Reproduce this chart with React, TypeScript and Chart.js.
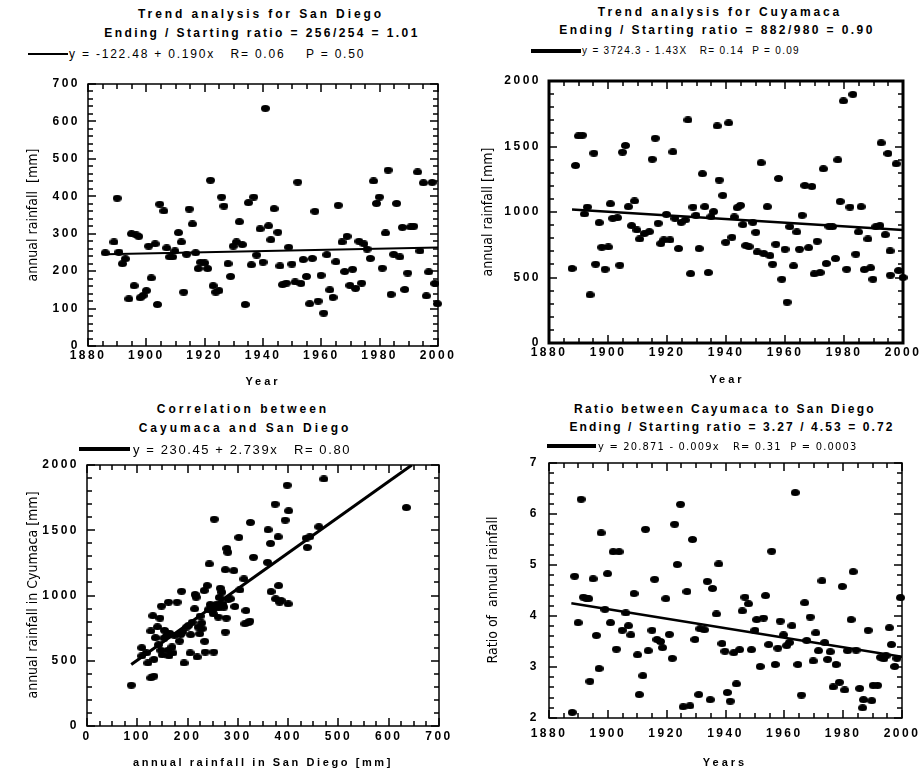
import React, { useEffect, useRef } from 'react';
import { Chart, registerables } from 'chart.js';

Chart.register(...registerables);

const SANS = '"Liberation Sans", Arial, Helvetica, sans-serif';
const NARROW = '"Liberation Sans Narrow", "DejaVu Sans Condensed", "Liberation Sans", sans-serif';

// ---------- Panel A: San Diego annual rainfall ----------
const yearsA = [
  1885.9, 1888.9, 1890.0, 1890.6, 1891.8, 1892.8, 1894.0, 1894.9, 1895.8, 1896.5,
  1897.4, 1897.9, 1898.9, 1900.0, 1900.8, 1901.7, 1903.0, 1903.8, 1904.6, 1906.0,
  1907.0, 1908.0, 1909.0, 1909.8, 1911.0, 1912.0, 1912.8, 1913.8, 1914.7, 1915.8,
  1916.9, 1917.8, 1918.6, 1920.0, 1921.0, 1922.0, 1922.9, 1923.8, 1924.9, 1925.8,
  1926.6, 1928.0, 1928.9, 1929.8, 1930.9, 1931.9, 1932.9, 1933.9, 1935.0, 1936.0,
  1936.8, 1937.8, 1939.0, 1940.0, 1940.8, 1941.9, 1942.7, 1943.8, 1945.1, 1945.8,
  1946.7, 1948.0, 1948.8, 1949.9, 1951.0, 1951.9, 1953.0, 1953.8, 1954.9, 1956.0,
  1956.9, 1957.8, 1958.9, 1959.9, 1960.8, 1961.9, 1962.9, 1964.0, 1965.0, 1965.8,
  1967.1, 1968.0, 1968.8, 1969.8, 1970.7, 1971.7, 1972.9, 1973.8, 1974.6, 1975.7,
  1976.8, 1977.9, 1978.9, 1979.9, 1980.9, 1982.0, 1982.9, 1983.9, 1984.8, 1985.8,
  1986.9, 1987.8, 1988.6, 1989.6, 1990.6, 1991.7, 1993.0, 1993.8, 1995.0, 1996.0,
  1996.8, 1998.0, 1998.9, 1999.8,
];
const rainSanDiego = [
  249, 278, 395, 251, 220, 233, 126, 300, 161, 297,
  293, 129, 135, 148, 267, 182, 273, 111, 379, 361,
  262, 238, 238, 254, 303, 278, 144, 245, 366, 326,
  249, 207, 224, 222, 207, 443, 161, 144, 148, 398,
  374, 220, 186, 267, 278, 332, 271, 111, 383, 217,
  398, 243, 313, 224, 635, 321, 284, 367, 304, 214,
  164, 168, 264, 219, 171, 438, 167, 231, 186, 113,
  234, 360, 120, 189, 88, 244, 150, 130, 225, 376,
  278, 199, 293, 162, 205, 154, 280, 168, 273, 259,
  234, 441, 381, 398, 208, 302, 470, 138, 245, 381,
  238, 317, 151, 195, 318, 320, 465, 254, 436, 134,
  198, 437, 167, 113,
];
const trendYearsA = [1886, 2000];
const trendA = [245, 263];

// ---------- Panel B: Cuyamaca annual rainfall ----------
const yearsB = [
  1887.8, 1889.0, 1890.0, 1891.3, 1892.0, 1893.0, 1893.9, 1895.2, 1895.8, 1897.0,
  1897.9, 1899.0, 1900.1, 1900.8, 1901.6, 1903.2, 1904.0, 1904.9, 1905.9, 1906.9,
  1908.0, 1909.0, 1909.8, 1910.7, 1912.3, 1914.0, 1915.0, 1916.0, 1917.0, 1917.9,
  1918.9, 1919.8, 1921.0, 1922.0, 1922.7, 1923.9, 1924.8, 1926.2, 1927.1, 1928.0,
  1928.8, 1929.8, 1930.9, 1932.0, 1932.8, 1934.0, 1934.9, 1935.8, 1937.0, 1937.7,
  1938.9, 1939.9, 1940.9, 1942.0, 1942.8, 1943.8, 1944.9, 1945.7, 1946.7, 1947.8,
  1949.1, 1950.1, 1950.6, 1951.9, 1952.8, 1954.0, 1954.9, 1955.8, 1956.9, 1957.8,
  1958.9, 1960.0, 1960.7, 1961.6, 1962.9, 1964.0, 1964.9, 1965.8, 1966.7, 1968.0,
  1969.1, 1969.9, 1970.9, 1971.9, 1973.0, 1974.0, 1974.9, 1976.1, 1977.1, 1977.9,
  1978.7, 1979.8, 1980.9, 1982.0, 1983.0, 1984.0, 1984.9, 1985.8, 1986.9, 1988.1,
  1989.0, 1989.8, 1990.8, 1992.2, 1992.6, 1994.0, 1994.9, 1995.6, 1995.7, 1997.7,
  1998.5, 2000.0,
];
const rainCuyamaca = [
  569, 1355, 1581, 1586, 985, 1038, 368, 1449, 602, 919,
  731, 563, 733, 1063, 952, 957, 594, 1457, 1508, 1041,
  896, 1084, 863, 794, 835, 850, 1403, 1563, 914, 759,
  787, 982, 787, 1459, 952, 721, 921, 939, 1703, 530,
  1038, 975, 721, 1292, 1041, 538, 964, 1003, 1657, 1244,
  1127, 769, 1680, 807, 962, 1033, 1051, 904, 744, 736,
  921, 845, 695, 1376, 683, 1041, 667, 602, 754, 1256,
  487, 716, 312, 888, 589, 848, 716, 975, 1203, 728,
  1195, 528, 777, 538, 1330, 607, 891, 888, 645, 1398,
  1081, 1848, 563, 1038, 1898, 678, 848, 1041, 561, 794,
  574, 487, 888, 896, 1528, 827, 1447, 703, 518, 1368,
  553, 500,
];
const trendYearsB = [1887.8, 2000];
const trendB = [1020, 863];

// ---------- Panel C: Cuyamaca vs San Diego ----------
const sanDiegoC = [
  88, 109, 109, 121, 127, 133, 133, 127, 131, 145,
  148, 136, 142, 147, 153, 162, 179, 154, 164, 161,
  163, 169, 174, 184, 188, 190, 193, 198, 202, 205,
  209, 214, 215, 217, 219, 221, 224, 225, 229, 233,
  234, 235, 239, 241, 243, 245, 249, 252, 253, 254,
  257, 261, 265, 268, 270, 272, 275, 277, 275, 278,
  280, 281, 292, 294, 302, 304, 312, 316, 321, 324,
  325, 331, 359, 360, 365, 366, 374, 375, 380, 381,
  383, 394, 398, 401, 400, 386, 436, 438, 443, 461,
  471, 635, 314, 247, 251, 262, 228, 206, 186, 171,
  150, 140, 158, 118, 263, 285,
];
const cuyamacaC = [
  313, 600, 537, 483, 369, 382, 511, 728, 845, 827,
  919, 677, 623, 580, 674, 949, 949, 733, 712, 580,
  537, 606, 695, 651, 1033, 720, 483, 758, 771, 560,
  794, 898, 1008, 987, 529, 758, 707, 842, 746, 1038,
  649, 567, 1076, 891, 1242, 931, 885, 567, 1585, 911,
  931, 835, 1056, 1025, 936, 911, 720, 827, 1198, 1361,
  1331, 972, 1191, 916, 1445, 1043, 1127, 885, 794, 804,
  1560, 1293, 1254, 1504, 1399, 1030, 1700, 975, 1450, 1076,
  949, 1578, 1845, 1649, 936, 962, 1440, 1369, 1450, 1527,
  1893, 1674, 784, 905, 860, 905, 790, 700, 700, 560,
  545, 760, 690, 560, 985, 975,
];
const fitSanDiegoC = [88, 646];
const fitCuyamacaC = [471, 2000];

// ---------- Panel D: ratio Cuyamaca / San Diego ----------
const yearsD = [
  1887.9, 1888.7, 1889.9, 1890.9, 1891.7, 1892.7, 1893.5, 1893.9, 1895.0, 1896.1,
  1897.0, 1897.7, 1899.0, 1899.9, 1900.9, 1901.8, 1902.9, 1903.8, 1904.9, 1906.1,
  1907.0, 1907.8, 1908.9, 1910.1, 1910.7, 1911.9, 1912.8, 1913.7, 1915.0, 1915.9,
  1916.7, 1917.9, 1918.6, 1919.7, 1920.9, 1921.9, 1922.7, 1923.6, 1924.7, 1925.6,
  1926.9, 1927.9, 1928.8, 1929.6, 1930.9, 1931.3, 1932.8, 1933.8, 1934.8, 1935.6,
  1936.9, 1937.7, 1938.8, 1939.8, 1940.6, 1941.6, 1942.8, 1943.7, 1944.8, 1945.7,
  1946.6, 1947.8, 1948.8, 1950.0, 1950.6, 1951.8, 1952.9, 1953.6, 1954.7, 1955.7,
  1956.9, 1957.8, 1958.6, 1959.7, 1960.8, 1961.7, 1962.6, 1963.7, 1964.6, 1965.8,
  1966.9, 1967.6, 1968.8, 1969.8, 1970.7, 1971.6, 1972.8, 1973.7, 1974.7, 1975.6,
  1976.6, 1977.6, 1978.7, 1979.7, 1980.5, 1981.5, 1982.7, 1983.4, 1984.4, 1985.6,
  1986.6, 1986.9, 1988.5, 1989.7, 1990.2, 1991.7, 1992.7, 1993.8, 1994.6, 1995.7,
  1996.4, 1997.5, 1998.3, 1999.5,
];
const ratioD = [
  2.11, 4.78, 3.87, 6.29, 4.37, 4.35, 4.34, 2.72, 4.73, 3.62,
  2.97, 5.63, 4.13, 4.83, 3.87, 5.26, 3.35, 5.26, 3.72, 4.06,
  3.81, 3.63, 4.44, 3.24, 2.46, 2.83, 5.70, 3.32, 3.72, 4.72,
  3.54, 3.50, 3.38, 4.34, 3.64, 3.17, 5.80, 5.01, 6.19, 2.22,
  4.48, 2.24, 5.50, 3.54, 2.46, 3.75, 3.73, 4.68, 2.36, 4.54,
  4.04, 5.02, 3.46, 3.31, 2.50, 2.33, 3.28, 2.67, 3.34, 4.10,
  4.37, 4.24, 3.34, 3.72, 3.93, 3.01, 3.96, 4.40, 3.44, 5.27,
  3.05, 3.37, 3.90, 3.63, 3.42, 3.48, 3.81, 6.42, 3.05, 2.45,
  4.26, 3.52, 3.98, 3.12, 3.67, 3.32, 4.69, 3.48, 3.15, 3.30,
  2.61, 3.05, 2.70, 4.58, 2.55, 3.32, 3.93, 4.87, 3.33, 2.58,
  2.20, 2.36, 3.72, 2.34, 2.64, 2.64, 3.19, 3.16, 3.22, 3.77,
  3.44, 3.01, 3.17, 4.36,
];
const trendYearsD = [1887.6, 2000];
const trendD = [4.25, 3.2];

// ---------- helpers ----------
function makeDot(w: number, h: number) {
  const c = document.createElement('canvas');
  c.width = w;
  c.height = h;
  const g = c.getContext('2d')!;
  g.fillStyle = '#000';
  g.beginPath();
  g.ellipse(w / 2, h / 2, w / 2, h / 2, 0, 0, Math.PI * 2);
  g.fill();
  return c;
}

const isMajor = (v: number, m: number) => Math.abs(v / m - Math.round(v / m)) < 1e-6;

interface AxisCfg { min: number; max: number; step: number; major: number }
interface PanelCfg {
  box: [number, number, number, number];
  area: [number, number, number, number];
  x: AxisCfg;
  y: AxisCfg;
  px: number[];
  py: number[];
  tx: number[];
  ty: number[];
  frameW: number;
  lineW: number;
  xPad: number;
  yPad: number;
}

function tickValues(a: AxisCfg) {
  const out: number[] = [];
  const n = Math.round((a.max - a.min) / a.step);
  for (let i = 0; i <= n; i++) out.push(a.min + i * a.step);
  return out;
}

function makeFramePlugin(cfg: PanelCfg) {
  const MAJOR_LEN = 8;
  const MINOR_LEN = 5;
  const LS = '2.5px';
  return {
    id: 'frameTicks',
    beforeLayout(chart: any) {
      chart.ctx.letterSpacing = LS;
    },
    beforeDraw(chart: any) {
      chart.ctx.letterSpacing = LS;
    },
    afterDraw(chart: any) {
      const ctx = chart.ctx;
      const a = chart.chartArea;
      const sx = chart.scales.x;
      const sy = chart.scales.y;
      ctx.save();
      ctx.fillStyle = '#000';
      ctx.strokeStyle = '#000';
      tickValues(cfg.x).forEach((v) => {
        const p = Math.round(sx.getPixelForValue(v));
        const L = isMajor(v, cfg.x.major) ? MAJOR_LEN : MINOR_LEN;
        ctx.fillRect(p - 0.75, a.bottom - L, 1.5, L);
        ctx.fillRect(p - 0.75, a.top, 1.5, L);
      });
      tickValues(cfg.y).forEach((v) => {
        const p = Math.round(sy.getPixelForValue(v));
        const L = isMajor(v, cfg.y.major) ? MAJOR_LEN : MINOR_LEN;
        ctx.fillRect(a.left, p - 0.75, L, 1.5);
        ctx.fillRect(a.right - L, p - 0.75, L, 1.5);
      });
      ctx.lineWidth = cfg.frameW;
      ctx.strokeRect(a.left, a.top, a.right - a.left, a.bottom - a.top);
      ctx.restore();
    },
  };
}

const panels: PanelCfg[] = [
  {
    box: [0, 70, 461, 322], area: [88, 84, 438, 346],
    x: { min: 1880, max: 2000, step: 5, major: 20 },
    y: { min: 0, max: 700, step: 20, major: 100 },
    px: yearsA, py: rainSanDiego, tx: trendYearsA, ty: trendA,
    frameW: 1.5, lineW: 2, xPad: 2, yPad: 8,
  },
  {
    box: [461, 68, 461, 322], area: [549, 81, 903, 343],
    x: { min: 1880, max: 2000, step: 5, major: 20 },
    y: { min: 0, max: 2000, step: 100, major: 500 },
    px: yearsB, py: rainCuyamaca, tx: trendYearsB, ty: trendB,
    frameW: 3, lineW: 2.5, xPad: 2, yPad: 8,
  },
  {
    box: [0, 455, 461, 316], area: [87, 465, 439, 726],
    x: { min: 0, max: 700, step: 25, major: 100 },
    y: { min: 0, max: 2000, step: 100, major: 500 },
    px: sanDiegoC, py: cuyamacaC, tx: fitSanDiegoC, ty: fitCuyamacaC,
    frameW: 1.5, lineW: 3, xPad: 3, yPad: 8,
  },
  {
    box: [461, 455, 461, 316], area: [549, 463, 902, 718],
    x: { min: 1880, max: 2000, step: 5, major: 20 },
    y: { min: 2, max: 7, step: 0.2, major: 1 },
    px: yearsD, py: ratioD, tx: trendYearsD, ty: trendD,
    frameW: 1.5, lineW: 2.5, xPad: 8, yPad: 10,
  },
];

function Panel({ cfg }: { cfg: PanelCfg }) {
  const ref = useRef<HTMLCanvasElement>(null);
  const [L, T, W, H] = cfg.box;
  useEffect(() => {
    const [al, at, ar, ab] = cfg.area;
    const dot = makeDot(9, 7);
    const tickFont = { family: SANS, size: 12, weight: 'bold' as const };
    const chart = new Chart(ref.current!, {
      type: 'scatter',
      data: {
        datasets: [
          {
            data: cfg.px.map((v, i) => ({ x: v, y: cfg.py[i] })),
            pointStyle: dot as any,
            pointRadius: 4,
            pointHoverRadius: 4,
            clip: false as any,
          },
          {
            data: cfg.tx.map((v, i) => ({ x: v, y: cfg.ty[i] })),
            showLine: true,
            pointRadius: 0,
            borderColor: '#000',
            borderWidth: cfg.lineW,
          } as any,
        ],
      },
      options: {
        responsive: false,
        animation: false,
        devicePixelRatio: 1,
        events: [],
        layout: { padding: { left: 0, top: at - T, right: L + W - ar, bottom: 0 } },
        plugins: {
          legend: { display: false },
          tooltip: { enabled: false },
        },
        scales: {
          x: {
            type: 'linear', min: cfg.x.min, max: cfg.x.max,
            ticks: {
              stepSize: cfg.x.step, autoSkip: false, maxRotation: 0, minRotation: 0,
              callback: (v: any) => (isMajor(Number(v), cfg.x.major) ? String(v) : ''),
              font: tickFont, color: '#000', padding: cfg.xPad,
            },
            grid: { display: false, drawTicks: false },
            border: { display: false },
            afterFit: (s: any) => { s.height = T + H - ab; s.paddingLeft = 0; s.paddingRight = 0; },
          },
          y: {
            type: 'linear', min: cfg.y.min, max: cfg.y.max,
            ticks: {
              stepSize: cfg.y.step, autoSkip: false,
              callback: (v: any) => (isMajor(Number(v), cfg.y.major) ? String(Math.round(Number(v))) : ''),
              font: tickFont, color: '#000', padding: cfg.yPad,
            },
            grid: { display: false, drawTicks: false },
            border: { display: false },
            afterFit: (s: any) => { s.width = al - L; s.paddingTop = 0; s.paddingBottom = 0; },
          },
        } as any,
      },
      plugins: [makeFramePlugin(cfg) as any],
    });
    return () => chart.destroy();
  }, []);
  return (
    <canvas
      ref={ref}
      width={W}
      height={H}
      style={{ position: 'absolute', left: L, top: T, width: W, height: H }}
    />
  );
}

function Txt(p: {
  x: number; y: number; text: string; size: number; bold?: boolean; ls?: number;
  family?: string; align?: 'center' | 'left'; rotate?: boolean;
}) {
  const tf = p.rotate
    ? 'translate(-50%,-50%) rotate(-90deg)'
    : p.align === 'left' ? 'translate(0,-50%)' : 'translate(-50%,-50%)';
  return (
    <div
      style={{
        position: 'absolute', left: p.x, top: p.y, transform: tf,
        whiteSpace: 'pre', fontFamily: p.family || SANS, fontSize: p.size,
        fontWeight: p.bold ? 'bold' : 'normal', letterSpacing: (p.ls || 0) + 'px',
        lineHeight: 1, color: '#000',
      }}
    >
      {p.text}
    </div>
  );
}

function Key(p: { x1: number; x2: number; y: number; th: number }) {
  return (
    <div
      style={{
        position: 'absolute', left: p.x1, top: p.y - p.th / 2, width: p.x2 - p.x1,
        height: p.th, background: '#000',
      }}
    />
  );
}

export default function App() {
  return (
    <div style={{ position: 'absolute', left: 0, top: 0, width: 922, height: 771, background: '#fff', overflow: 'hidden' }}>
      {panels.map((c, i) => <Panel key={i} cfg={c} />)}

      {/* Panel A texts */}
      <Txt x={261} y={14} text="Trend analysis for San Diego" size={12} bold ls={2.9} />
      <Txt x={262} y={33} text="Ending / Starting ratio = 256/254 = 1.01" size={12} bold ls={2.4} />
      <Key x1={28} x2={68} y={54} th={2} />
      <Txt x={69} y={54} align="left" text="y = -122.48 + 0.190x   R= 0.06    P = 0.50" size={12} ls={1.8} />
      <Txt x={263} y={381} text="Year" size={11} bold ls={3} />
      <Txt x={32} y={215} rotate text="annual rainfall  [mm]" size={14} family={NARROW} />

      {/* Panel B texts */}
      <Txt x={720} y={12} text="Trend analysis for Cuyamaca" size={12} bold ls={2.9} />
      <Txt x={717} y={30} text="Ending / Starting ratio = 882/980 = 0.90" size={12} bold ls={2.4} />
      <Key x1={531} x2={581} y={51} th={4} />
      <Txt x={582} y={51} align="left" text="y = 3724.3 - 1.43X   R= 0.14  P = 0.09" size={10} ls={1.3} />
      <Txt x={727} y={379} text="Year" size={11} bold ls={3} />
      <Txt x={487} y={212} rotate text="annual rainfall [mm]" size={14} family={NARROW} />

      {/* Panel C texts */}
      <Txt x={243} y={409} text="Correlation between" size={12} bold ls={3} />
      <Txt x={245} y={428} text="Cayumaca and San Diego" size={12} bold ls={3} />
      <Key x1={79} x2={130} y={449} th={4} />
      <Txt x={133} y={449} align="left" text="y = 230.45 + 2.739x   R= 0.80" size={13} ls={1.6} />
      <Txt x={263} y={762} text="annual rainfall in San Diego [mm]" size={11} bold ls={2.6} />
      <Txt x={32} y={595} rotate text="annual rainfall in Cyumaca [mm]" size={14} family={NARROW} />

      {/* Panel D texts */}
      <Txt x={725} y={409} text="Ratio between Cayumaca to San Diego" size={12} bold ls={2.3} />
      <Txt x={732} y={427} text="Ending / Starting ratio = 3.27 / 4.53 = 0.72" size={12} bold ls={2.1} />
      <Key x1={547} x2={596} y={446} th={4} />
      <Txt x={598} y={446} align="left" text="y = 20.871 - 0.009x   R= 0.31  P = 0.0003" size={11} ls={1.2} family={NARROW} />
      <Txt x={725} y={762} text="Years" size={11} bold ls={3} />
      <Txt x={492} y={590} rotate text="Ratio of  annual rainfall" size={14} family={NARROW} />
    </div>
  );
}
